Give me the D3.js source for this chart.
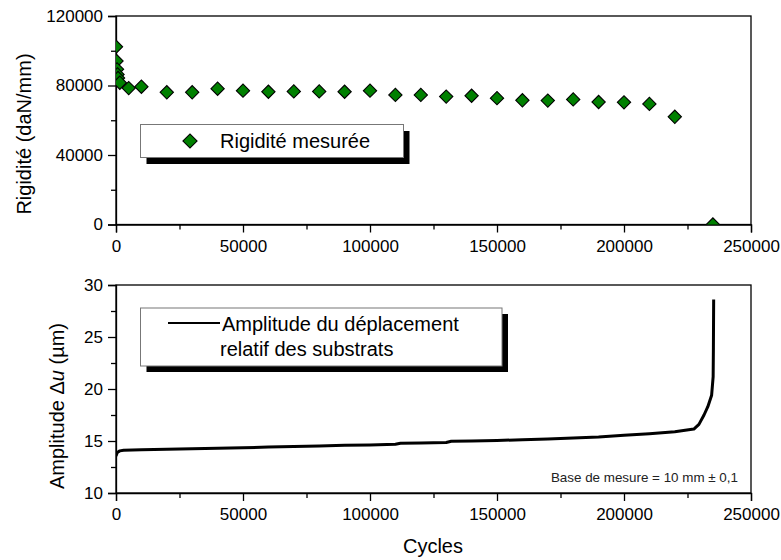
<!DOCTYPE html>
<html><head><meta charset="utf-8">
<script src="https://cdn.jsdelivr.net/npm/d3@7"></script>
<style>
body{margin:0;background:#fff;}
svg{display:block;font-family:"Liberation Sans",Arial,sans-serif;}
.axis path,.axis line{stroke:#000;stroke-width:1.3;}
.axis text{font-size:17px;fill:#000;font-family:"Liberation Sans",Arial,sans-serif;}
</style></head>
<body>
<svg id="c" width="781" height="560"></svg>
<script>
// ---- data ----
const xTicks = [0, 50000, 100000, 150000, 200000, 250000];
const xMinorTicks = [25000, 75000, 125000, 175000, 225000];
const topYTicks = [0, 40000, 80000, 120000];
const topYMinor = [20000, 60000, 100000];
const botYTicks = [10, 15, 20, 25, 30];
const botYMinor = [12.5, 17.5, 22.5, 27.5];

const rigCycles = [0, 200, 400, 600, 800, 1500, 5000, 10000, 20000, 30000, 40000, 50000, 60000, 70000, 80000, 90000, 100000, 110000, 120000, 130000, 140000, 150000, 160000, 170000, 180000, 190000, 200000, 210000, 220000, 235000];
const rigValues = [102300, 94100, 89300, 86400, 84300, 81600, 78500, 79300, 76100, 76100, 78150, 77000, 76400, 76600, 76600, 76400, 77000, 74600, 74600, 73600, 74100, 72700, 71500, 71300, 72000, 70500, 70300, 69400, 62000, 0];

const ampCycles = [0, 500, 1500, 3000, 10000, 20000, 30000, 40000, 50000, 60000, 70000, 80000, 90000, 100000, 110000, 112000, 120000, 130000, 132000, 140000, 150000, 160000, 170000, 180000, 190000, 200000, 210000, 220000, 227500, 229500, 231500, 233000, 234500, 235100, 235200, 235300];
const ampValues = [13.55, 13.9, 14.05, 14.12, 14.15, 14.2, 14.25, 14.3, 14.35, 14.42, 14.48, 14.52, 14.58, 14.62, 14.68, 14.78, 14.8, 14.85, 14.97, 15.0, 15.05, 15.12, 15.2, 15.28, 15.38, 15.55, 15.7, 15.9, 16.15, 16.6, 17.5, 18.3, 19.4, 21.2, 24, 28.6];

// ---- scales ----
const svg = d3.select("#c");
const x = d3.scaleLinear().domain([0, 250000]).range([116, 751]);
const yTop = d3.scaleLinear().domain([0, 120000]).range([224.5, 16]);
const yBot = d3.scaleLinear().domain([10, 30]).range([493, 285]);

function drawAxes(y, yT, yM, fmtY) {
  const r0 = y.range()[0], r1 = y.range()[1];
  // frame
  svg.append("rect").attr("x", 116).attr("y", r1).attr("width", 635).attr("height", r0 - r1)
    .attr("fill", "none").attr("stroke", "#000").attr("stroke-width", 1.3);
  const gx = svg.append("g").attr("class", "axis").attr("transform", `translate(0,${r0})`)
    .call(d3.axisBottom(x).tickValues(xTicks).tickSize(8).tickPadding(7).tickFormat(d3.format("d")));
  svg.append("g").attr("class", "axis").attr("transform", `translate(0,${r0})`)
    .call(d3.axisBottom(x).tickValues(xMinorTicks).tickSize(5).tickFormat(""))
    .select(".domain").remove();
  svg.append("g").attr("class", "axis").attr("transform", "translate(116,0)")
    .call(d3.axisLeft(y).tickValues(yT).tickSize(8).tickPadding(5).tickFormat(fmtY));
  svg.append("g").attr("class", "axis").attr("transform", "translate(116,0)")
    .call(d3.axisLeft(y).tickValues(yM).tickSize(5).tickFormat(""))
    .select(".domain").remove();
}

drawAxes(yTop, topYTicks, topYMinor, d3.format("d"));
drawAxes(yBot, botYTicks, botYMinor, d3.format("d"));

// clip paths
const defs = svg.append("defs");
defs.append("clipPath").attr("id", "clipTop").append("rect")
  .attr("x", 116).attr("y", 16).attr("width", 635).attr("height", 208.5);
defs.append("clipPath").attr("id", "clipBot").append("rect")
  .attr("x", 116).attr("y", 285).attr("width", 635).attr("height", 208);

// top: diamonds
const diamond = d3.symbol().type(d3.symbolSquare).size(88);
svg.append("g").attr("clip-path", "url(#clipTop)")
  .selectAll("path").data(rigCycles.map((c, i) => [c, rigValues[i]]))
  .join("path")
  .attr("d", diamond)
  .attr("transform", d => `translate(${x(d[0])},${yTop(d[1])}) rotate(45)`)
  .attr("fill", "#008000").attr("stroke", "#000").attr("stroke-width", 1.1);

// bottom: line
const line = d3.line().x(d => x(d[0])).y(d => yBot(d[1]));
svg.append("g").attr("clip-path", "url(#clipBot)")
  .append("path").datum(ampCycles.map((c, i) => [c, ampValues[i]]))
  .attr("d", line).attr("fill", "none").attr("stroke", "#000")
  .attr("stroke-width", 3).attr("stroke-linejoin", "round");

// top legend
svg.append("rect").attr("x", 146.5).attr("y", 131).attr("width", 263).attr("height", 33).attr("fill", "#000");
svg.append("rect").attr("x", 140.5).attr("y", 124.5).attr("width", 263).attr("height", 33)
  .attr("fill", "#fff").attr("stroke", "#777").attr("stroke-width", 1);
svg.append("path").attr("d", d3.symbol().type(d3.symbolSquare).size(100))
  .attr("transform", "translate(190,141) rotate(45)")
  .attr("fill", "#008000").attr("stroke", "#000").attr("stroke-width", 1.1);
svg.append("text").attr("x", 220).attr("y", 148).attr("font-size", 20).text("Rigidité mesurée");

// bottom legend
svg.append("rect").attr("x", 146.5).attr("y", 314).attr("width", 361.5).attr("height", 58).attr("fill", "#000");
svg.append("rect").attr("x", 140.5).attr("y", 308).attr("width", 361.5).attr("height", 58)
  .attr("fill", "#fff").attr("stroke", "#777").attr("stroke-width", 1);
svg.append("line").attr("x1", 168).attr("x2", 220).attr("y1", 323).attr("y2", 323)
  .attr("stroke", "#000").attr("stroke-width", 2);
svg.append("text").attr("x", 222).attr("y", 331).attr("font-size", 20).text("Amplitude du déplacement");
svg.append("text").attr("x", 220).attr("y", 356).attr("font-size", 20).text("relatif des substrats");

// annotation
svg.append("text").attr("x", 738).attr("y", 482).attr("text-anchor", "end")
  .attr("font-size", 13.4).attr("fill", "#222").text("Base de mesure = 10 mm ± 0,1");

// axis titles
svg.append("text").attr("transform", "translate(31,134) rotate(-90)").attr("text-anchor", "middle")
  .attr("font-size", 20).text("Rigidité (daN/mm)");
const t2 = svg.append("text").attr("transform", "translate(64,406) rotate(-90)").attr("text-anchor", "middle")
  .attr("font-size", 20);
t2.append("tspan").text("Amplitude Δ");
t2.append("tspan").attr("font-style", "italic").text("u");
t2.append("tspan").text(" (µm)");
svg.append("text").attr("x", 433).attr("y", 553).attr("text-anchor", "middle")
  .attr("font-size", 20).text("Cycles");
</script>
</body></html>
